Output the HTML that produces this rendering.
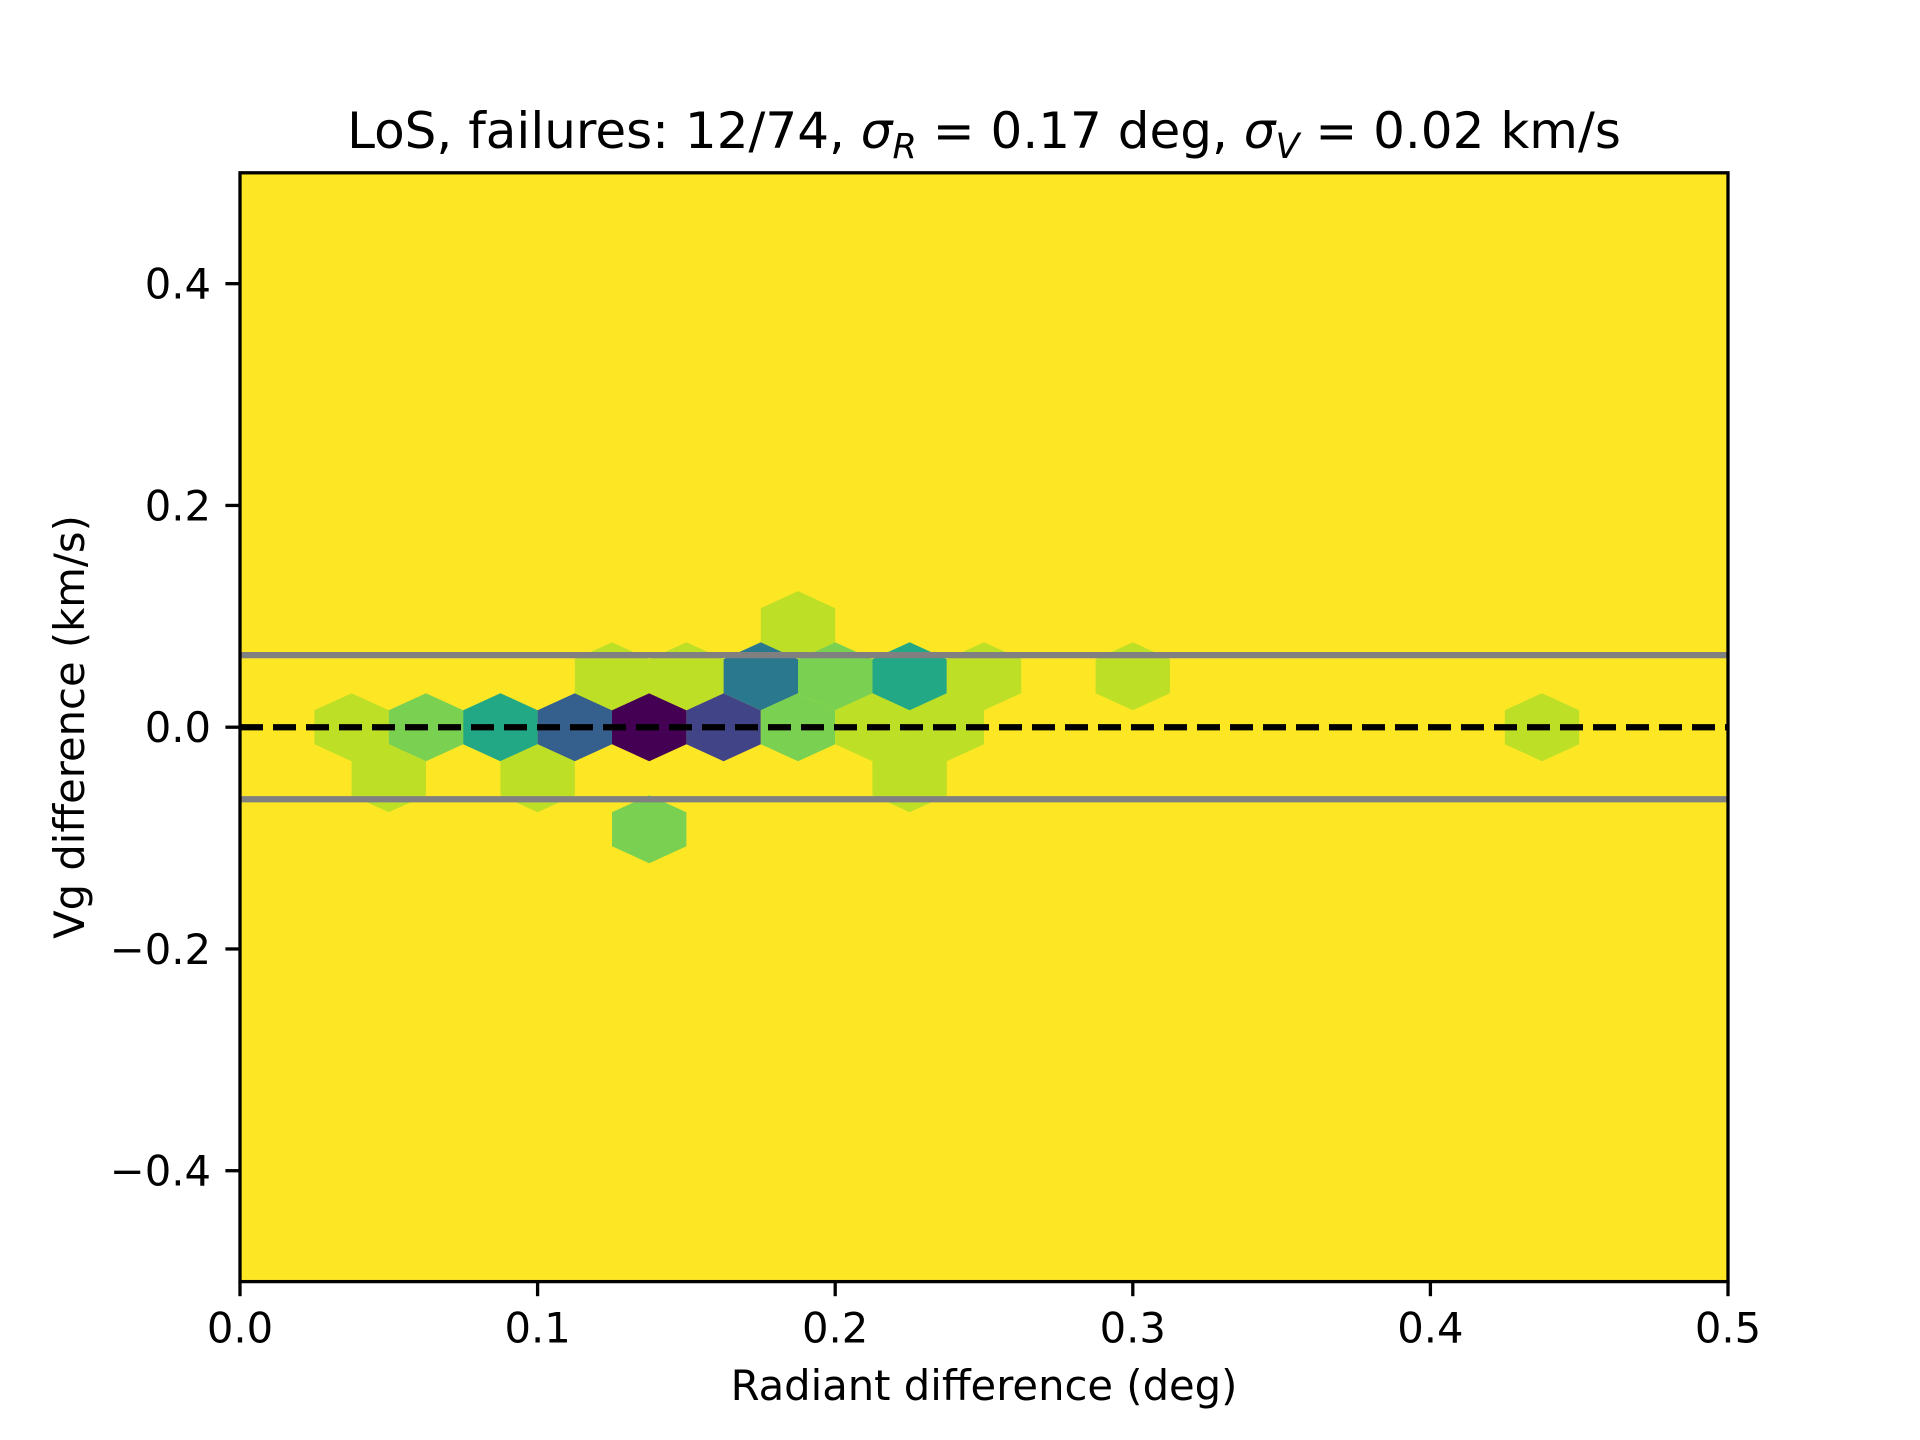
<!DOCTYPE html>
<html><head><meta charset="utf-8"><style>html,body{margin:0;padding:0;background:#fff}svg{display:block}text{font-family:"DejaVu Sans","Liberation Sans",sans-serif;fill:#000}</style></head>
<body>
<svg id="chart" width="1920" height="1440" viewBox="0 0 1920 1440" xmlns="http://www.w3.org/2000/svg">
<rect x="0" y="0" width="1920" height="1440" fill="#fff"/>
<rect x="240" y="172.8" width="1488" height="1108.8" fill="#fde725"/>
<g id="hexes"></g>
<g id="refs"></g>
<rect x="240" y="172.8" width="1488" height="1108.8" fill="none" stroke="#000" stroke-width="3.3"/>
<g id="xticks"></g>
<g id="yticks"></g>
<text x="984" y="1400" font-size="41.7" text-anchor="middle">Radiant difference (deg)</text>
<text transform="translate(84,727) rotate(-90)" font-size="41.7" text-anchor="middle">Vg difference (km/s)</text>
<text x="984" y="148" font-size="50" text-anchor="middle">LoS, failures: 12/74, <tspan font-style="italic">σ</tspan><tspan font-style="italic" font-size="35" dy="10">R</tspan><tspan dy="-10"> = 0.17 deg, </tspan><tspan font-style="italic">σ</tspan><tspan font-style="italic" font-size="35" dy="10">V</tspan><tspan dy="-10"> = 0.02 km/s</tspan></text>
</svg>
<script>
const hexX = [0.0375,0.0625,0.0875,0.1125,0.1375,0.1625,0.1875,0.2125,0.2375,0.4375,
              0.125,0.15,0.175,0.2,0.225,0.25,0.3,
              0.05,0.1,0.225,
              0.1875,
              0.1375];
const hexY = [0,0,0,0,0,0,0,0,0,0,
              0.046,0.046,0.046,0.046,0.046,0.046,0.046,
              -0.046,-0.046,-0.046,
              0.092,
              -0.092];
const hexCount = [1,2,4,7,10,8,2,1,1,1,
                  1,1,6,2,4,1,1,
                  1,1,1,
                  1,
                  2];
const xTicks = [0.0,0.1,0.2,0.3,0.4,0.5];
const xTickLabels = ["0.0","0.1","0.2","0.3","0.4","0.5"];
const yTicks = [-0.4,-0.2,0.0,0.2,0.4];
const yTickLabels = ["\u22120.4","\u22120.2","0.0","0.2","0.4"];
const refLevels = [0.065,-0.065];

const X0=240,X1=1728,Y0=1281.6,Y1=172.8;
const xs=v=>X0+(v-0)/(0.5)*(X1-X0);
const ys=v=>Y0-(v+0.5)/1.0*(Y0-Y1);
const NS="http://www.w3.org/2000/svg";
const vir=[[0,"#440154"],[0.1,"#482475"],[0.2,"#414487"],[0.3,"#355f8d"],[0.4,"#2a788e"],[0.5,"#21918c"],[0.6,"#22a884"],[0.7,"#44bf70"],[0.8,"#7ad151"],[0.9,"#bddf26"],[1,"#fde725"]];
function color(c){const vmax=Math.max(...hexCount);const t=1-c/vmax;let best=vir[0];for(const s of vir){if(Math.abs(s[0]-t)<Math.abs(best[0]-t))best=s;}return best[1];}
const sx=0.025, sy=0.092;
const hg=document.getElementById('hexes');
for(let i=0;i<hexX.length;i++){
  const cx=hexX[i],cy=hexY[i];
  const pts=[[.5,-.5],[.5,.5],[0,1],[-.5,.5],[-.5,-.5],[0,-1]].map(p=>xs(cx+p[0]*sx)+","+ys(cy+p[1]*sy/3)).join(" ");
  const pg=document.createElementNS(NS,'polygon');
  pg.setAttribute('points',pts);
  pg.setAttribute('fill',color(hexCount[i]));
  
  
  hg.appendChild(pg);
}
const rg=document.getElementById('refs');
for(const v of refLevels){
  const l=document.createElementNS(NS,'line');
  l.setAttribute('x1',X0);l.setAttribute('x2',X1);l.setAttribute('y1',ys(v));l.setAttribute('y2',ys(v));
  l.setAttribute('stroke','#808080');l.setAttribute('stroke-width','6.25');
  
  
  rg.appendChild(l);
}
const z=document.createElementNS(NS,'line');
z.setAttribute('x1',X0);z.setAttribute('x2',X1);z.setAttribute('y1',ys(0));z.setAttribute('y2',ys(0));
z.setAttribute('stroke','#000');z.setAttribute('stroke-width','6.25');z.setAttribute('stroke-dasharray','23 10');


rg.appendChild(z);
const xg=document.getElementById('xticks');
xTicks.forEach((v,i)=>{
  const t=document.createElementNS(NS,'line');
  t.setAttribute('x1',xs(v));t.setAttribute('x2',xs(v));t.setAttribute('y1',Y0);t.setAttribute('y2',Y0+14.6);
  t.setAttribute('stroke','#000');t.setAttribute('stroke-width','3.3');
  
  
  xg.appendChild(t);
  const tx=document.createElementNS(NS,'text');
  tx.setAttribute('x',xs(v));tx.setAttribute('y',Y0+61);tx.setAttribute('font-size','41.7');tx.setAttribute('text-anchor','middle');
  tx.textContent=xTickLabels[i];
  
  
  xg.appendChild(tx);
});
const yg=document.getElementById('yticks');
yTicks.forEach((v,i)=>{
  const t=document.createElementNS(NS,'line');
  t.setAttribute('x1',X0-14.6);t.setAttribute('x2',X0);t.setAttribute('y1',ys(v));t.setAttribute('y2',ys(v));
  t.setAttribute('stroke','#000');t.setAttribute('stroke-width','3.3');
  
  
  yg.appendChild(t);
  const tx=document.createElementNS(NS,'text');
  tx.setAttribute('x',X0-29);tx.setAttribute('y',ys(v)+15);tx.setAttribute('font-size','41.7');tx.setAttribute('text-anchor','end');
  tx.textContent=yTickLabels[i];
  
  
  yg.appendChild(tx);
});
</script>
</body></html>
